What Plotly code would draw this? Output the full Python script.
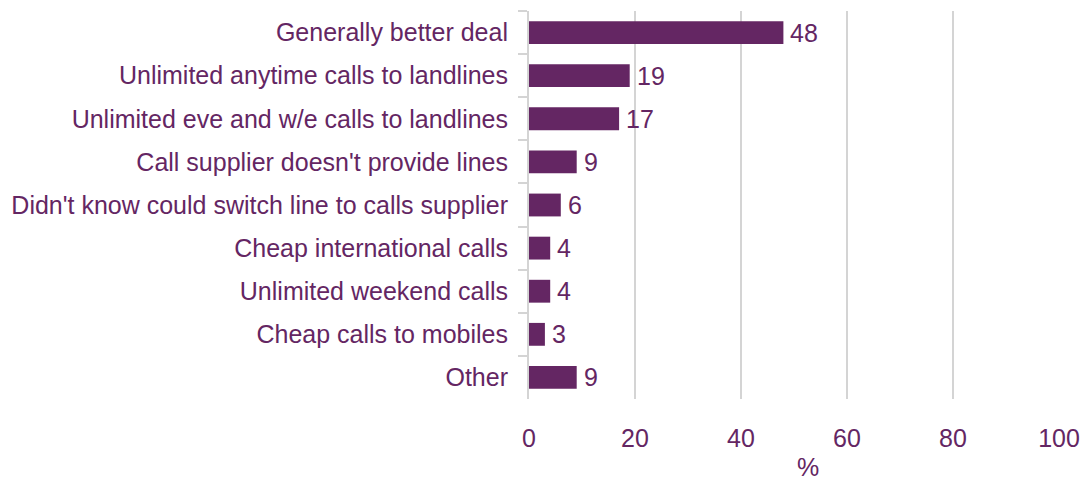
import plotly.graph_objects as go

categories = [
    "Generally better deal",
    "Unlimited anytime calls to landlines",
    "Unlimited eve and w/e calls to landlines",
    "Call supplier doesn't provide lines",
    "Didn't know could switch line to calls supplier",
    "Cheap international calls",
    "Unlimited weekend calls",
    "Cheap calls to mobiles",
    "Other",
]
values = [48, 19, 17, 9, 6, 4, 4, 3, 9]
x_ticks = [0, 20, 40, 60, 80, 100]

purple = "#642663"
text_col = "#642663"
grid = "#d4d4d4"
font = "Liberation Sans, Arial, sans-serif"
fs = 25

fig = go.Figure(go.Bar(
    x=values, y=categories, orientation="h",
    marker=dict(color=purple, line=dict(width=0)),
))
for c, v in zip(categories, values):
    fig.add_annotation(x=v, y=c, text=str(v), showarrow=False, xanchor="left",
                       yanchor="middle", xshift=5,
                       font=dict(size=fs, color=text_col, family=font))

fig.update_layout(
    width=1091, height=480,
    margin=dict(l=529, r=32, t=11, b=81),
    plot_bgcolor="white", paper_bgcolor="white",
    bargap=0.47, showlegend=False,
    font=dict(family=font, size=fs, color=text_col),
)
fig.update_xaxes(
    range=[0, 100], tickvals=x_ticks, showgrid=True, gridcolor=grid, gridwidth=2,
    zeroline=False, showline=False, ticks="outside", ticklen=17, tickcolor="rgba(0,0,0,0)",
    tickfont=dict(size=fs, color=text_col, family=font),
)
fig.update_yaxes(
    autorange="reversed", type="category", showline=True, linecolor=grid, linewidth=2,
    ticks="outside", tickson="boundaries", ticklen=9, tickwidth=2, tickcolor=grid,
    ticklabelstandoff=14,
    showgrid=False, tickfont=dict(size=fs, color=text_col, family=font),
)
fig.add_annotation(text="%", xref="paper", yref="paper", x=0.526, y=-0.175,
                   xanchor="center", yanchor="middle", showarrow=False,
                   font=dict(size=fs, color=text_col, family=font))

fig.write_html("out.html")
